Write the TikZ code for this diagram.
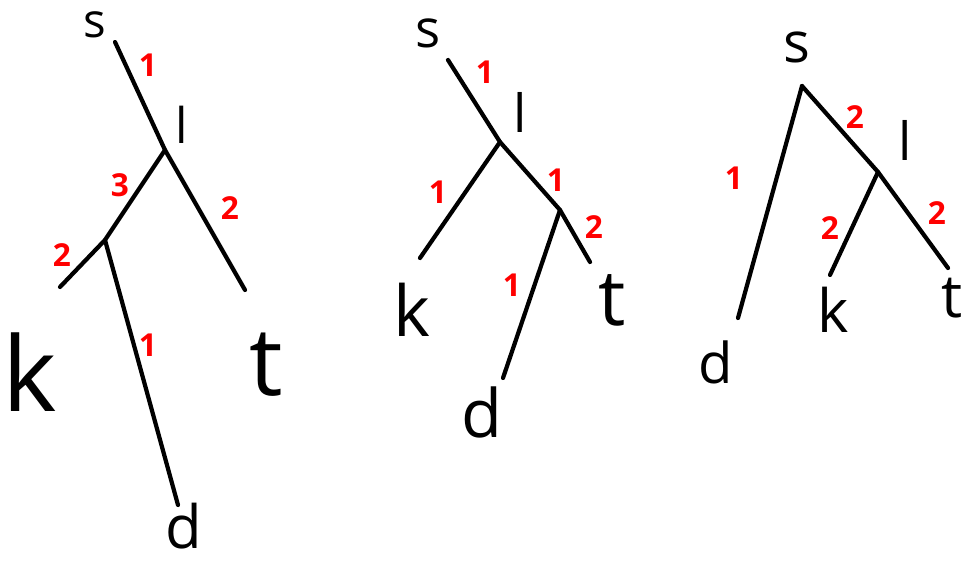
\documentclass[tikz,border=0pt]{standalone}
\usepackage{fontspec}
\setmainfont{Open Sans}
\usepackage{tikz}
\usetikzlibrary{positioning}

\newcommand{\fsz}[1]{\fontsize{#1}{#1}\selectfont}

\begin{document}
\begin{tikzpicture}[x=0.02cm,y=-0.02cm,
  branch/.style={line width=2.4pt,line cap=round,line join=round},
  wt/.style={text=red,font=\bfseries\fsz{18pt},inner sep=0pt},
  lbl/.style={inner sep=0pt}]
\useasboundingbox (0,0) rectangle (964,561);
  % First tree
  \coordinate (s1) at (115,42);
  \coordinate (l1) at (165,150);
  \coordinate (j1) at (105,240);
  \coordinate (k1) at (60,287);
  \coordinate (t1) at (245,290);
  \coordinate (d1) at (178,505);
  \draw[branch] (s1) -- (l1) -- (j1) -- (k1);
  \draw[branch] (j1) -- (d1);
  \draw[branch] (l1) -- (t1);
  \node[lbl,font=\fsz{27pt}] (s1t) at (95,25) {s};
  \node[lbl,font=\fsz{28pt}] (l1t) at (182,125) {l};
  \node[lbl,font=\fsz{59pt}] (k1t) at (30,372) {k};
  \node[lbl,font=\fsz{54pt}] (t1t) at (266,365) {t};
  \node[lbl,font=\fsz{34pt}] (d1t) at (184,526) {d};
  \node[wt] (w11) at (148,65) {1};
  \node[wt] (w12) at (120,185) {3};
  \node[wt] (w13) at (62,255) {2};
  \node[wt] (w14) at (230,208) {2};
  \node[wt] (w15) at (148,345) {1};
  % Second tree
  \coordinate (s2) at (448,60);
  \coordinate (l2) at (500,142);
  \coordinate (k2) at (420,258);
  \coordinate (j2) at (560,210);
  \coordinate (t2) at (590,262);
  \coordinate (d2) at (503,378);
  \draw[branch] (s2) -- (l2) -- (k2);
  \draw[branch] (l2) -- (j2) -- (t2);
  \draw[branch] (j2) -- (d2);
  \node[lbl,font=\fsz{30pt}] (s2t) at (428,33) {s};
  \node[lbl,font=\fsz{30pt}] (l2t) at (520,112) {l};
  \node[lbl,font=\fsz{40pt}] (k2t) at (412,310) {k};
  \node[lbl,font=\fsz{44pt}] (t2t) at (612,300) {t};
  \node[lbl,font=\fsz{38pt}] (d2t) at (482,412) {d};
  \node[wt] (w21) at (485,72) {1};
  \node[wt] (w22) at (438,192) {1};
  \node[wt] (w23) at (556,180) {1};
  \node[wt] (w24) at (594,227) {2};
  \node[wt] (w25) at (512,285) {1};
  % Third tree
  \coordinate (s3) at (802,86);
  \coordinate (l3) at (878,172);
  \coordinate (d3) at (738,318);
  \coordinate (k3) at (830,275);
  \coordinate (t3) at (948,268);
  \draw[branch] (s3) -- (d3);
  \draw[branch] (s3) -- (l3) -- (k3);
  \draw[branch] (l3) -- (t3);
  \node[lbl,font=\fsz{32pt}] (s3t) at (797,47) {s};
  \node[lbl,font=\fsz{30pt}] (l3t) at (905,140) {l};
  \node[lbl,font=\fsz{34pt}] (k3t) at (833,310) {k};
  \node[lbl,font=\fsz{34pt}] (t3t) at (952,298) {t};
  \node[lbl,font=\fsz{32pt}] (d3t) at (716,362) {d};
  \node[wt] (w31) at (734,178) {1};
  \node[wt] (w32) at (855,117) {2};
  \node[wt] (w33) at (830,228) {2};
  \node[wt] (w34) at (937,213) {2};
\end{tikzpicture}
\end{document}
